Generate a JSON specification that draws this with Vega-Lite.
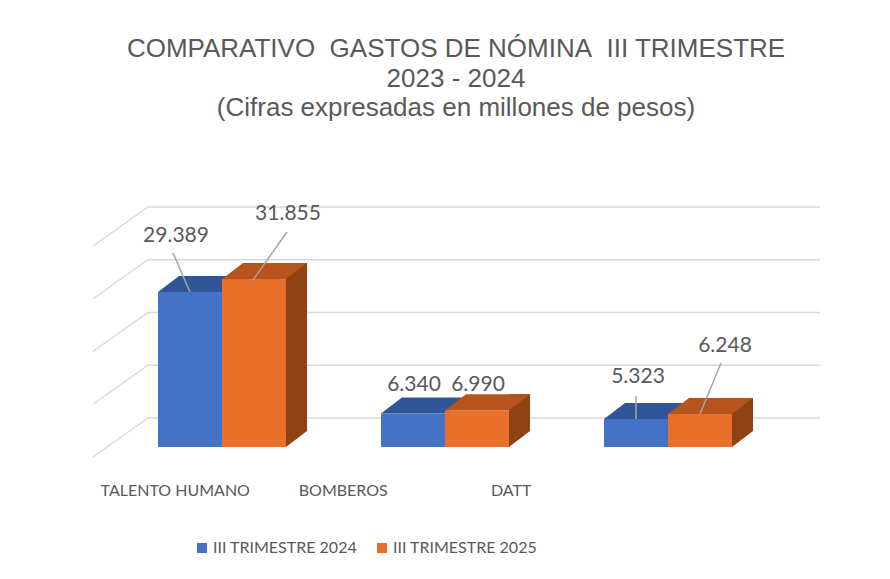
{
  "$schema": "https://vega.github.io/schema/vega-lite/v6.json",
  "width": 672,
  "height": 211,
  "autosize": {"type": "none"},
  "padding": {"left": 148, "top": 207, "right": 70, "bottom": 161},
  "background": "#ffffff",
  "title": {
    "text": ["COMPARATIVO\u00a0 GASTOS DE NÓMINA\u00a0 III TRIMESTRE", "2023 - 2024", "(Cifras expresadas en millones de pesos)"],
    "font": "Liberation Sans",
    "fontSize": 26,
    "fontWeight": "normal",
    "color": "#595959",
    "lineHeight": 29.5,
    "anchor": "middle",
    "dx": -28,
    "offset": 82
  },
  "config": {
    "view": {"stroke": null},
    "locale": {"number": {"decimal": ",", "thousands": ".", "grouping": [3], "currency": ["$", ""]}}
  },
  "datasets": {
    "gastos": [
      {"cat": "TALENTO HUMANO", "serie": "III TRIMESTRE 2024", "valor": 29389},
      {"cat": "TALENTO HUMANO", "serie": "III TRIMESTRE 2025", "valor": 31855},
      {"cat": "BOMBEROS", "serie": "III TRIMESTRE 2024", "valor": 6340},
      {"cat": "BOMBEROS", "serie": "III TRIMESTRE 2025", "valor": 6990},
      {"cat": "DATT", "serie": "III TRIMESTRE 2024", "valor": 5323},
      {"cat": "DATT", "serie": "III TRIMESTRE 2025", "valor": 6248}
    ],
    "grilla": [{"g": 0}, {"g": 10000}, {"g": 20000}, {"g": 30000}, {"g": 40000}]
  },
  "data": {"name": "gastos"},
  "layer": [
    {
      "encoding": {
        "x": {
          "field": "cat", "type": "nominal", "axis": null,
          "scale": {"domain": ["TALENTO HUMANO", "BOMBEROS", "DATT"], "paddingInner": 0.426, "paddingOuter": 0.2197, "align": 0.102}
        },
        "y": {
          "field": "valor", "type": "quantitative", "stack": null,
          "scale": {"domain": [0, 40000]},
          "axis": null
        }
      },
      "layer": [
        {
          "data": {"name": "grilla"},
          "mark": {"type": "point", "shape": "M-129,39L-74,0L598,0", "size": 4, "filled": false, "stroke": "#D9D9D9", "strokeWidth": 1.5, "opacity": 1},
          "encoding": {
            "x": {"datum": "TALENTO HUMANO", "axis": null},
            "y": {"field": "g", "type": "quantitative", "axis": null}
          }
        },
        {
          "transform": [{"filter": "datum.serie === 'III TRIMESTRE 2024'"}],
          "mark": {"type": "point", "shape": "M-32,0L32,0L53,-16L-11,-16Z", "size": 4, "filled": true, "color": "#2F5597", "strokeWidth": 0, "opacity": 1, "yOffset": 29},
          "encoding": {
            "xOffset": {"field": "serie", "type": "nominal", "scale": {"domain": ["III TRIMESTRE 2024", "III TRIMESTRE 2025"], "paddingInner": 0, "paddingOuter": 0}}
          }
        },
        {
          "mark": {"type": "bar", "yOffset": 29, "y2Offset": 29, "opacity": 1},
          "encoding": {
            "y2": {"datum": 0},
            "xOffset": {"field": "serie", "type": "nominal", "scale": {"domain": ["III TRIMESTRE 2024", "III TRIMESTRE 2025"], "paddingInner": 0, "paddingOuter": 0}},
            "color": {
              "field": "serie", "type": "nominal",
              "scale": {"domain": ["III TRIMESTRE 2024", "III TRIMESTRE 2025"], "range": ["#4472C4", "#E8702A"]},
              "legend": {"orient": "none", "legendX": 46, "legendY": 333, "direction": "horizontal", "title": null, "symbolType": "square", "symbolSize": 100, "symbolStrokeWidth": 0, "labelFont": "Lato", "labelFontSize": 16, "labelColor": "#595959", "columnPadding": 16, "labelOffset": 3, "padding": 0}
            }
          }
        },
        {
          "transform": [{"filter": "datum.serie === 'III TRIMESTRE 2025'"}],
          "mark": {"type": "bar", "width": 21, "xOffset": 74.5, "yOffset": 13, "y2Offset": 13, "color": "#8F4315", "opacity": 1},
          "encoding": {"y2": {"datum": 0}}
        },
        {
          "transform": [{"filter": "datum.serie === 'III TRIMESTRE 2025'"}],
          "mark": {"type": "point", "shape": "M-32,0L32,0L53,-16L-11,-16Z", "size": 4, "filled": true, "color": "#B5541C", "strokeWidth": 0, "opacity": 1, "yOffset": 29},
          "encoding": {
            "xOffset": {"field": "serie", "type": "nominal"}
          }
        },
        {
          "transform": [{"filter": "datum.serie === 'III TRIMESTRE 2025'"}],
          "mark": {"type": "point", "shape": "M32,0L32,-16L53,-16Z", "size": 4, "filled": true, "color": "#8F4315", "strokeWidth": 0, "opacity": 1, "yOffset": 29},
          "encoding": {
            "xOffset": {"field": "serie", "type": "nominal"},
            "y": {"datum": 0, "type": "quantitative", "axis": null}
          }
        },
        {
          "transform": [{"filter": "datum.cat === 'TALENTO HUMANO' && datum.serie === 'III TRIMESTRE 2024'"}],
          "mark": {"type": "point", "shape": "M-17,-39L0,0", "size": 4, "filled": false, "stroke": "#A6A6A6", "strokeWidth": 1.5, "opacity": 1, "yOffset": 29},
          "encoding": {"xOffset": {"field": "serie", "type": "nominal"}}
        },
        {
          "transform": [{"filter": "datum.cat === 'TALENTO HUMANO' && datum.serie === 'III TRIMESTRE 2025'"}],
          "mark": {"type": "point", "shape": "M33,-47L-1,1", "size": 4, "filled": false, "stroke": "#A6A6A6", "strokeWidth": 1.5, "opacity": 1, "yOffset": 29},
          "encoding": {"xOffset": {"field": "serie", "type": "nominal"}}
        },
        {
          "transform": [{"filter": "datum.cat === 'DATT' && datum.serie === 'III TRIMESTRE 2024'"}],
          "mark": {"type": "point", "shape": "M0,-23L0,0", "size": 4, "filled": false, "stroke": "#A6A6A6", "strokeWidth": 1.5, "opacity": 1, "yOffset": 29},
          "encoding": {"xOffset": {"field": "serie", "type": "nominal"}}
        },
        {
          "transform": [{"filter": "datum.cat === 'DATT' && datum.serie === 'III TRIMESTRE 2025'"}],
          "mark": {"type": "point", "shape": "M21,-51L0,0", "size": 4, "filled": false, "stroke": "#A6A6A6", "strokeWidth": 1.5, "opacity": 1, "yOffset": 29},
          "encoding": {"xOffset": {"field": "serie", "type": "nominal"}}
        },
        {
          "transform": [{"filter": "datum.cat === 'TALENTO HUMANO' && datum.serie === 'III TRIMESTRE 2024'"}],
          "mark": {"type": "text", "font": "Lato", "fontSize": 21, "color": "#595959", "align": "center", "baseline": "middle", "dx": -14, "dy": -27},
          "encoding": {"xOffset": {"field": "serie", "type": "nominal"}, "text": {"field": "valor", "type": "quantitative", "format": ",.0f"}}
        },
        {
          "transform": [{"filter": "datum.cat === 'TALENTO HUMANO' && datum.serie === 'III TRIMESTRE 2025'"}],
          "mark": {"type": "text", "font": "Lato", "fontSize": 21, "color": "#595959", "align": "center", "baseline": "middle", "dx": 34, "dy": -35.5},
          "encoding": {"xOffset": {"field": "serie", "type": "nominal"}, "text": {"field": "valor", "type": "quantitative", "format": ",.0f"}}
        },
        {
          "transform": [{"filter": "datum.cat === 'BOMBEROS' && datum.serie === 'III TRIMESTRE 2024'"}],
          "mark": {"type": "text", "font": "Lato", "fontSize": 21, "color": "#595959", "align": "center", "baseline": "middle", "dx": 1, "dy": 0},
          "encoding": {"xOffset": {"field": "serie", "type": "nominal"}, "text": {"field": "valor", "type": "quantitative", "format": ",.0f"}}
        },
        {
          "transform": [{"filter": "datum.cat === 'BOMBEROS' && datum.serie === 'III TRIMESTRE 2025'"}],
          "mark": {"type": "text", "font": "Lato", "fontSize": 21, "color": "#595959", "align": "center", "baseline": "middle", "dx": 1, "dy": 4},
          "encoding": {"xOffset": {"field": "serie", "type": "nominal"}, "text": {"field": "valor", "type": "quantitative", "format": ",.0f"}}
        },
        {
          "transform": [{"filter": "datum.cat === 'DATT' && datum.serie === 'III TRIMESTRE 2024'"}],
          "mark": {"type": "text", "font": "Lato", "fontSize": 21, "color": "#595959", "align": "center", "baseline": "middle", "dx": 2, "dy": -13},
          "encoding": {"xOffset": {"field": "serie", "type": "nominal"}, "text": {"field": "valor", "type": "quantitative", "format": ",.0f"}}
        },
        {
          "transform": [{"filter": "datum.cat === 'DATT' && datum.serie === 'III TRIMESTRE 2025'"}],
          "mark": {"type": "text", "font": "Lato", "fontSize": 21, "color": "#595959", "align": "center", "baseline": "middle", "dx": 25, "dy": -39.5},
          "encoding": {"xOffset": {"field": "serie", "type": "nominal"}, "text": {"field": "valor", "type": "quantitative", "format": ",.0f"}}
        }
      ]
    },
    {
      "mark": {"type": "point", "opacity": 0, "size": 0},
      "encoding": {
        "x": {
          "field": "cat", "type": "nominal",
          "scale": {"type": "point", "domain": ["TALENTO HUMANO", "BOMBEROS", "DATT"], "padding": 1.018, "align": 0.0796},
          "axis": {"orient": "bottom", "title": null, "domain": false, "ticks": false, "grid": false, "labelAngle": 0, "labelPadding": 64, "labelFont": "Lato", "labelFontSize": 16, "labelColor": "#595959"}
        }
      }
    }
  ],
  "resolve": {"scale": {"x": "independent"}}
}
